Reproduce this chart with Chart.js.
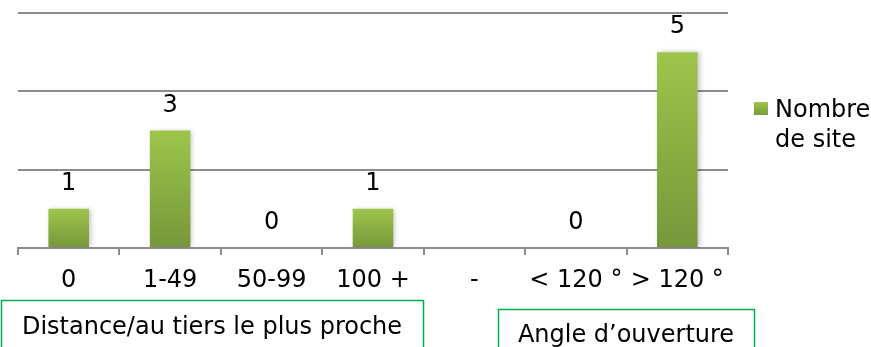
<!DOCTYPE html>
<html>
<head>
<meta charset="utf-8">
<script src="https://cdn.jsdelivr.net/npm/chart.js@4.4.0/dist/chart.umd.min.js"></script>
<style>
  html, body { margin: 0; padding: 0; background: #fff; }
  #wrap { width: 871px; height: 347px; position: relative; }
</style>
</head>
<body>
<div id="wrap"><canvas id="chart" width="871" height="347"></canvas></div>
<script>
// data
var categories = ['0', '1-49', '50-99', '100 +', '-', '< 120 °', '> 120 °'];
var siteCounts = [1, 3, 0, 1, null, 0, 5];
var seriesName = ['Nombre', 'de site'];
var groupTitles = ['Distance/au tiers le plus proche', 'Angle d\u2019ouverture'];
var yMax = 6;
var yStep = 2;

var FONT = '"DejaVu Sans", Verdana, sans-serif';
var FONT_SIZE = 24;
var GRID = '#8c8c8c';
var GREEN_BORDER = '#00b050';

function barFill(ctx) {
    var chart = ctx.chart;
    var area = chart.chartArea;
    if (!area || ctx.raw == null) return '#8bb042';
    var top = chart.scales.y.getPixelForValue(ctx.raw);
    if (area.bottom - top < 1) return '#8bb042';
    var g = chart.ctx.createLinearGradient(0, top, 0, area.bottom);
    g.addColorStop(0, '#9dc54b');
    g.addColorStop(1, '#76973a');
    return g;
}

// soft shadow behind the bars
var barShadow = {
    id: 'barShadow',
    beforeDatasetsDraw: function (chart) {
        var c = chart.ctx;
        c.save();
        c.shadowColor = 'rgba(0,0,0,0.22)';
        c.shadowBlur = 5;
        c.shadowOffsetX = 2;
        c.shadowOffsetY = 0;
    },
    afterDatasetsDraw: function (chart) {
        chart.ctx.restore();
    }
};

// value labels above bars
var valueLabels = {
    id: 'valueLabels',
    afterDatasetsDraw: function (chart) {
        var c = chart.ctx;
        var meta = chart.getDatasetMeta(0);
        c.save();
        c.font = FONT_SIZE + 'px ' + FONT;
        c.fillStyle = '#000';
        c.textAlign = 'center';
        c.textBaseline = 'middle';
        meta.data.forEach(function (bar, i) {
            var v = siteCounts[i];
            if (v == null) return;
            c.fillText(String(v), bar.x, bar.y - 25);
        });
        c.restore();
    }
};

// legend on the right and the two group boxes under the axis
var extras = {
    id: 'extras',
    afterDraw: function (chart) {
        var c = chart.ctx;
        c.save();
        // legend
        var sq = c.createLinearGradient(0, 102, 0, 116);
        sq.addColorStop(0, '#9dc54b');
        sq.addColorStop(1, '#76973a');
        c.fillStyle = sq;
        c.fillRect(754, 102, 14, 13);
        c.font = FONT_SIZE + 'px ' + FONT;
        c.fillStyle = '#000';
        c.textAlign = 'left';
        c.textBaseline = 'middle';
        c.fillText(seriesName[0], 775, 111);
        c.fillText(seriesName[1], 775, 141);

        // group boxes
        c.strokeStyle = GREEN_BORDER;
        c.lineWidth = 1.5;
        c.strokeRect(1.5, 300.5, 422, 60);
        c.strokeRect(498.5, 309.5, 256, 60);
        c.textAlign = 'center';
        c.fillText(groupTitles[0], 212, 328);
        c.fillText(groupTitles[1], 626, 336);
        c.restore();
    }
};

var ctx = document.getElementById('chart').getContext('2d');
var chart = new Chart(ctx, {
    type: 'bar',
    data: {
        labels: categories,
        datasets: [{
            label: seriesName.join(' '),
            data: siteCounts,
            backgroundColor: barFill,
            borderWidth: 0,
            categoryPercentage: 1,
            barPercentage: 0.4
        }]
    },
    options: {
        responsive: false,
        animation: false,
        layout: { padding: { left: 18, right: 143, top: 13, bottom: 0 } },
        plugins: {
            legend: { display: false },
            tooltip: { enabled: false }
        },
        scales: {
            x: {
                offset: true,
                grid: {
                    offset: true,
                    drawOnChartArea: false,
                    drawTicks: true,
                    tickLength: 7,
                    color: GRID,
                    lineWidth: 2
                },
                border: { display: true, color: GRID, width: 2 },
                ticks: {
                    color: '#000',
                    font: { family: FONT, size: FONT_SIZE },
                    padding: 11,
                    maxRotation: 0,
                    autoSkip: false
                },
                afterFit: function (scale) { scale.height = 99; }
            },
            y: {
                min: 0,
                max: yMax,
                ticks: { stepSize: yStep, display: false },
                grid: { color: GRID, lineWidth: 2, drawTicks: false },
                border: { display: false },
                afterFit: function (scale) { scale.width = 0; }
            }
        }
    },
    plugins: [barShadow, valueLabels, extras]
});
</script>
</body>
</html>
